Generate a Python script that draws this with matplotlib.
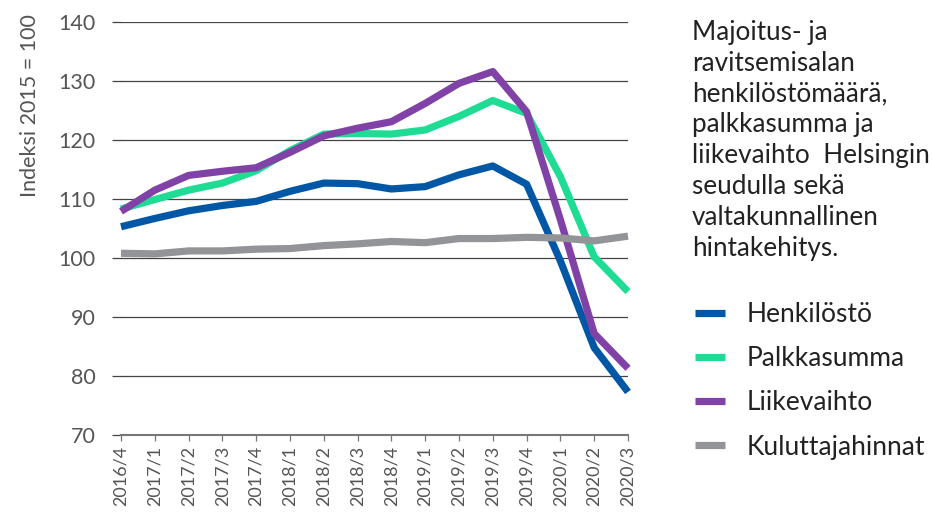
import matplotlib
matplotlib.use('Agg')
import matplotlib.pyplot as plt

plt.rcParams['font.family'] = ['Lato', 'DejaVu Sans']

# Data
quarters = ['2016/4', '2017/1', '2017/2', '2017/3', '2017/4', '2018/1', '2018/2', '2018/3',
            '2018/4', '2019/1', '2019/2', '2019/3', '2019/4', '2020/1', '2020/2', '2020/3']
henkilosto = [105.3, 106.7, 108.0, 108.9, 109.6, 111.3, 112.7, 112.6,
              111.7, 112.1, 114.1, 115.6, 112.5, 99.5, 84.8, 77.3]
palkkasumma = [108.3, 109.9, 111.5, 112.7, 114.8, 118.2, 121.0, 121.1,
               121.0, 121.7, 124.0, 126.7, 124.5, 113.8, 100.2, 94.3]
liikevaihto = [107.9, 111.5, 114.0, 114.7, 115.3, 117.9, 120.7, 122.0,
               123.1, 126.2, 129.6, 131.6, 124.8, 106.5, 87.2, 81.3]
kuluttajahinnat = [100.8, 100.7, 101.2, 101.2, 101.5, 101.6, 102.1, 102.4,
                   102.8, 102.6, 103.3, 103.3, 103.5, 103.4, 102.9, 103.7]

series = [
    ('Henkilöstö', henkilosto, '#0057a5'),
    ('Palkkasumma', palkkasumma, '#1fdc95'),
    ('Liikevaihto', liikevaihto, '#8142a8'),
    ('Kuluttajahinnat', kuluttajahinnat, '#929497'),
]

fig = plt.figure(figsize=(9.32, 5.13), dpi=100)
ax = fig.add_axes([121 / 932, 1 - 435 / 513, 507 / 932, 413 / 513])

x = range(len(quarters))
for name, vals, col in series:
    ax.plot(x, vals, color=col, lw=5.2, label=name, solid_capstyle='butt', clip_on=False)

ax.set_xlim(0, len(quarters) - 1)
ax.set_ylim(70, 140)
ax.set_yticks(range(70, 141, 10))
ax.set_xticks(list(x))
ax.set_xticklabels(quarters, rotation=90)
ax.grid(axis='y', color='#444444', lw=0.9, zorder=0)
ax.set_axisbelow(True)
for s in ['top', 'right', 'left']:
    ax.spines[s].set_visible(False)
ax.spines['bottom'].set_color('#777777')
ax.spines['bottom'].set_linewidth(1.5)
ax.tick_params(axis='y', length=6.5, width=0.9, color='#444444', pad=12,
               labelsize=15.5, labelcolor='#555555')
ax.tick_params(axis='x', length=4, width=0.9, color='#777777', pad=4,
               labelsize=13, labelcolor='#555555')

fig.text(30 / 932, 1 - 14 / 513, 'Indeksi 2015 = 100', rotation=90, ha='center', va='top',
         fontsize=15.5, color='#555555')

fig.text(692 / 932, 1 - 20 / 513,
         'Majoitus- ja\nravitsemisalan\nhenkilöstömäärä,\npalkkasumma ja\n'
         'liikevaihto  Helsingin\nseudulla sekä\nvaltakunnallinen\nhintakehitys.',
         ha='left', va='top', fontsize=18.8, color='#222222', linespacing=1.29)

handles, labels = ax.get_legend_handles_labels()
fig.legend(handles, labels, loc='upper left', bbox_to_anchor=(671 / 932, 1 - 278 / 513),
           frameon=False, fontsize=19, handlelength=1.14, handletextpad=0.81,
           labelspacing=0.73, labelcolor='#222222')

fig.savefig('out.png', dpi=100)
